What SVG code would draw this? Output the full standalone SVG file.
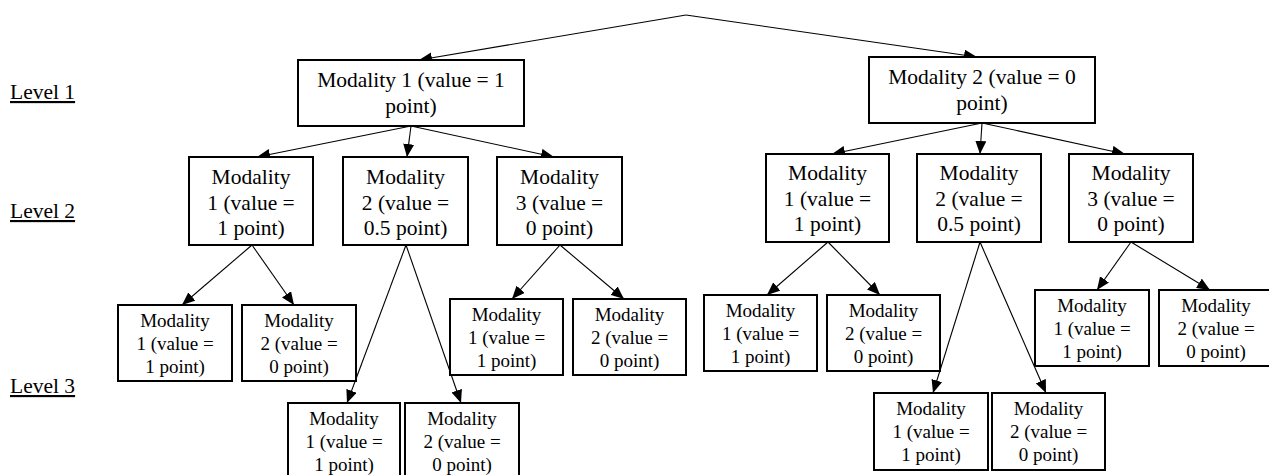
<svg xmlns="http://www.w3.org/2000/svg" width="1269" height="475" viewBox="0 0 1269 475" font-family="'Liberation Serif', 'Times New Roman', serif">
<defs>
<marker id="ah" markerUnits="userSpaceOnUse" markerWidth="13" markerHeight="11" refX="13" refY="5.5" orient="auto">
<path d="M0,0 L13,5.5 L0,11 z" fill="#000"/>
</marker>
<style>
.box{fill:#fff;stroke:#000;stroke-width:2}
text{font-family:'Liberation Serif','Times New Roman',serif;fill:#000}
.t{text-anchor:middle}
.big{font-size:21.5px}
.sm{font-size:19px}
.lvl{font-size:21.5px;text-decoration:underline}
.c{stroke:#000;stroke-width:1.1;fill:none;marker-end:url(#ah)}
</style>
</defs>
<rect width="1269" height="475" fill="#fff"/>
<g id="labels">
<text class="lvl" x="10" y="99">Level 1</text>
<text class="lvl" x="10" y="218">Level 2</text>
<text class="lvl" x="10" y="393">Level 3</text>
</g>
<g id="connectors">
<line class="c" x1="686" y1="15" x2="419" y2="60"/>
<line class="c" x1="686" y1="15" x2="977" y2="57"/>
<line class="c" x1="411" y1="126" x2="257" y2="157"/>
<line class="c" x1="411" y1="126" x2="407" y2="157"/>
<line class="c" x1="411" y1="126" x2="554" y2="157"/>
<line class="c" x1="982" y1="123" x2="832" y2="154"/>
<line class="c" x1="982" y1="123" x2="980" y2="154"/>
<line class="c" x1="982" y1="123" x2="1125" y2="154"/>
<line class="c" x1="252" y1="245" x2="182" y2="305"/>
<line class="c" x1="252" y1="245" x2="294" y2="305"/>
<line class="c" x1="406" y1="245" x2="347" y2="403"/>
<line class="c" x1="406" y1="245" x2="461" y2="403"/>
<line class="c" x1="560" y1="245" x2="512" y2="299"/>
<line class="c" x1="560" y1="245" x2="624" y2="299"/>
<line class="c" x1="828" y1="242" x2="767" y2="295"/>
<line class="c" x1="828" y1="242" x2="880" y2="295"/>
<line class="c" x1="980" y1="242" x2="933" y2="393"/>
<line class="c" x1="980" y1="242" x2="1046" y2="393"/>
<line class="c" x1="1131" y1="242" x2="1097" y2="290"/>
<line class="c" x1="1131" y1="242" x2="1210" y2="290"/>
</g>
<g id="n1">
<rect class="box" x="298" y="60" width="226" height="66"/>
<text class="t big" x="411" y="87">Modality 1 (value = 1</text>
<text class="t big" x="411" y="113">point)</text>
</g>
<g id="n2">
<rect class="box" x="869" y="57" width="226" height="66"/>
<text class="t big" x="982" y="84">Modality 2 (value = 0</text>
<text class="t big" x="982" y="110">point)</text>
</g>
<g id="n1a">
<rect class="box" x="189" y="157" width="124" height="88"/>
<text class="t big" x="251" y="184">Modality</text>
<text class="t big" x="251" y="210">1 (value =</text>
<text class="t big" x="251" y="235">1 point)</text>
</g>
<g id="n1b">
<rect class="box" x="343" y="157" width="125" height="88"/>
<text class="t big" x="405.5" y="184">Modality</text>
<text class="t big" x="405.5" y="210">2 (value =</text>
<text class="t big" x="405.5" y="235">0.5 point)</text>
</g>
<g id="n1c">
<rect class="box" x="497" y="157" width="125" height="88"/>
<text class="t big" x="559.5" y="184">Modality</text>
<text class="t big" x="559.5" y="210">3 (value =</text>
<text class="t big" x="559.5" y="235">0 point)</text>
</g>
<g id="n2a">
<rect class="box" x="766" y="154" width="123" height="88"/>
<text class="t big" x="827.5" y="180">Modality</text>
<text class="t big" x="827.5" y="206">1 (value =</text>
<text class="t big" x="827.5" y="231">1 point)</text>
</g>
<g id="n2b">
<rect class="box" x="917" y="154" width="124" height="88"/>
<text class="t big" x="979" y="180">Modality</text>
<text class="t big" x="979" y="206">2 (value =</text>
<text class="t big" x="979" y="231">0.5 point)</text>
</g>
<g id="n2c">
<rect class="box" x="1069" y="154" width="124" height="88"/>
<text class="t big" x="1131" y="180">Modality</text>
<text class="t big" x="1131" y="206">3 (value =</text>
<text class="t big" x="1131" y="231">0 point)</text>
</g>
<g id="n1a1">
<rect class="box" x="118" y="305" width="114" height="76"/>
<text class="t sm" x="175" y="327">Modality</text>
<text class="t sm" x="175" y="350">1 (value =</text>
<text class="t sm" x="175" y="373">1 point)</text>
</g>
<g id="n1a2">
<rect class="box" x="242" y="305" width="114" height="76"/>
<text class="t sm" x="299" y="327">Modality</text>
<text class="t sm" x="299" y="350">2 (value =</text>
<text class="t sm" x="299" y="373">0 point)</text>
</g>
<g id="n1b1">
<rect class="box" x="288" y="403" width="112" height="76"/>
<text class="t sm" x="344" y="425">Modality</text>
<text class="t sm" x="344" y="448">1 (value =</text>
<text class="t sm" x="344" y="471">1 point)</text>
</g>
<g id="n1b2">
<rect class="box" x="405" y="403" width="114" height="76"/>
<text class="t sm" x="462" y="425">Modality</text>
<text class="t sm" x="462" y="448">2 (value =</text>
<text class="t sm" x="462" y="471">0 point)</text>
</g>
<g id="n1c1">
<rect class="box" x="450" y="299" width="113" height="76"/>
<text class="t sm" x="506.5" y="321">Modality</text>
<text class="t sm" x="506.5" y="344">1 (value =</text>
<text class="t sm" x="506.5" y="367">1 point)</text>
</g>
<g id="n1c2">
<rect class="box" x="573" y="299" width="113" height="76"/>
<text class="t sm" x="629.5" y="321">Modality</text>
<text class="t sm" x="629.5" y="344">2 (value =</text>
<text class="t sm" x="629.5" y="367">0 point)</text>
</g>
<g id="n2a1">
<rect class="box" x="704" y="295" width="113" height="76"/>
<text class="t sm" x="760.5" y="317">Modality</text>
<text class="t sm" x="760.5" y="340">1 (value =</text>
<text class="t sm" x="760.5" y="363">1 point)</text>
</g>
<g id="n2a2">
<rect class="box" x="827" y="295" width="113" height="76"/>
<text class="t sm" x="883.5" y="317">Modality</text>
<text class="t sm" x="883.5" y="340">2 (value =</text>
<text class="t sm" x="883.5" y="363">0 point)</text>
</g>
<g id="n2b1">
<rect class="box" x="874" y="393" width="114" height="77"/>
<text class="t sm" x="931" y="415">Modality</text>
<text class="t sm" x="931" y="438">1 (value =</text>
<text class="t sm" x="931" y="461">1 point)</text>
</g>
<g id="n2b2">
<rect class="box" x="992" y="393" width="113" height="77"/>
<text class="t sm" x="1048.5" y="415">Modality</text>
<text class="t sm" x="1048.5" y="438">2 (value =</text>
<text class="t sm" x="1048.5" y="461">0 point)</text>
</g>
<g id="n2c1">
<rect class="box" x="1035" y="290" width="114" height="76"/>
<text class="t sm" x="1092" y="312">Modality</text>
<text class="t sm" x="1092" y="335">1 (value =</text>
<text class="t sm" x="1092" y="358">1 point)</text>
</g>
<g id="n2c2">
<rect class="box" x="1159" y="290" width="114" height="76"/>
<text class="t sm" x="1216" y="312">Modality</text>
<text class="t sm" x="1216" y="335">2 (value =</text>
<text class="t sm" x="1216" y="358">0 point)</text>
</g>
</svg>
